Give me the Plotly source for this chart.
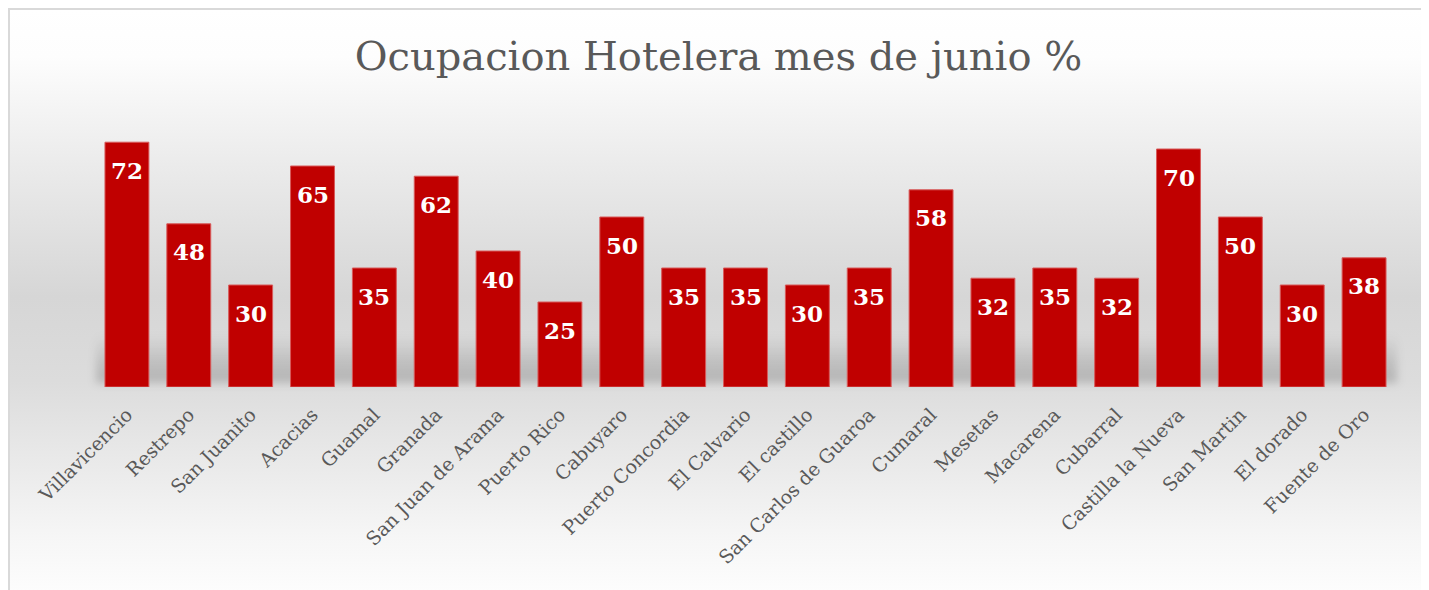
import base64
import plotly.graph_objects as go

municipios = ["Villavicencio", "Restrepo", "San Juanito", "Acacias", "Guamal", "Granada",
              "San Juan de Arama", "Puerto Rico", "Cabuyaro", "Puerto Concordia", "El Calvario",
              "El castillo", "San Carlos de Guaroa", "Cumaral", "Mesetas", "Macarena", "Cubarral",
              "Castilla la Nueva", "San Martin", "El dorado", "Fuente de Oro"]
ocupacion = [72, 48, 30, 65, 35, 62, 40, 25, 50, 35, 35, 30, 35, 58, 32, 35, 32, 70, 50, 30, 38]
titulo = "Ocupacion Hotelera mes de junio %"

# page has an 8px body margin: work in figure coords = reference - 8
OFF = 8
W, H = 1429 - OFF, 590 - OFF
L, R, T, B = 96 - OFF, 34, 115 - OFF, 203
PW, PH = W - L - R, H - T - B

svg = f'''<svg xmlns="http://www.w3.org/2000/svg" width="{W}" height="{H}" viewBox="0 0 {W} {H}" preserveAspectRatio="none">
<defs>
<linearGradient id="g" x1="0" y1="0" x2="0" y2="1">
<stop offset="0" stop-color="#ffffff"/>
<stop offset="0.08" stop-color="#fdfdfd"/>
<stop offset="0.25" stop-color="#ececec"/>
<stop offset="0.48" stop-color="#d6d6d6"/>
<stop offset="0.62" stop-color="#dcdcdc"/>
<stop offset="0.75" stop-color="#e9e9e9"/>
<stop offset="0.88" stop-color="#f6f6f6"/>
<stop offset="1" stop-color="#ffffff"/>
</linearGradient>
<linearGradient id="s" x1="0" y1="0" x2="0" y2="1">
<stop offset="0" stop-color="#000" stop-opacity="0"/>
<stop offset="0.6" stop-color="#000" stop-opacity="0.13"/>
<stop offset="1" stop-color="#000" stop-opacity="0.18"/>
</linearGradient>
<filter id="b" x="-5%" y="-50%" width="110%" height="200%"><feGaussianBlur stdDeviation="4"/></filter>
</defs>
<rect x="0" y="0" width="{W}" height="{H}" fill="#ffffff"/>
<rect x="1" y="1" width="1414" height="600" fill="url(#g)" stroke="#d9d9d9" stroke-width="2"/>
<rect x="{L}" y="{335 - OFF}" width="{PW + 2}" height="48" fill="url(#s)" filter="url(#b)"/>
</svg>'''
src = "data:image/svg+xml;base64," + base64.b64encode(svg.encode()).decode()

fig = go.Figure()
fig.add_trace(go.Bar(
    x=municipios, y=ocupacion,
    marker=dict(color="#C00000", line=dict(color="#d85a5a", width=1)),
    hoverinfo="x+y",
))

for m, v in zip(municipios, ocupacion):
    fig.add_annotation(x=m, y=v, text=f"<b>{v}</b>", showarrow=False,
                       yanchor="middle", yshift=-28,
                       font=dict(family="DejaVu Serif", size=23, color="#ffffff"))

fig.add_layout_image(dict(
    source=src, xref="paper", yref="paper",
    x=-L / PW, y=1 + T / PH, sizex=W / PW, sizey=H / PH,
    xanchor="left", yanchor="top", sizing="stretch", layer="below",
))

fig.update_layout(
    width=W, height=H,
    margin=dict(l=L, r=R, t=T, b=B, autoexpand=False),
    paper_bgcolor="#ffffff", plot_bgcolor="rgba(0,0,0,0)",
    bargap=0.29,
    showlegend=False,
    title=dict(text=titulo, x=0.5, xref="container", xanchor="center",
               y=1 - (56 - OFF) / H, yanchor="middle",
               font=dict(family="DejaVu Serif", size=40, color="#595959")),
    xaxis=dict(tickangle=-45, showgrid=False, showline=False, zeroline=False,
               ticks="", ticklabelstandoff=12,
               tickfont=dict(family="DejaVu Serif", size=19, color="#595959")),
    yaxis=dict(range=[0, 80], visible=False, showgrid=False, zeroline=False),
)

fig.write_html("out.html")
